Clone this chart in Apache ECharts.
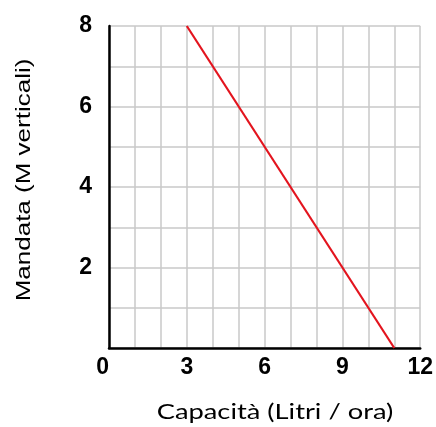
<!DOCTYPE html>
<html>
<head>
<meta charset="utf-8">
<script src="https://cdn.jsdelivr.net/npm/echarts@6/dist/echarts.min.js"></script>
<style>html,body{margin:0;padding:0;background:#fff;}#c{width:436px;height:427px;}</style>
</head>
<body>
<div id="c"></div>
<script>
var capacita = [3, 11];
var mandata = [8, 0];
var xTicks = [0, 3, 6, 9, 12];
var yTicks = [2, 4, 6, 8];
var xTitle = 'Capacità (Litri / ora)';
var yTitle = 'Mandata (M verticali)';

var chart = echarts.init(document.getElementById('c'), null, {renderer: 'canvas'});
var pts = capacita.map(function (x, i) { return [x, mandata[i]]; });
chart.setOption({
  animation: false,
  grid: {left: 109, right: 14, top: 26, bottom: 79, containLabel: false},
  xAxis: {
    type: 'value', min: 0, max: 12, interval: 1,
    axisLine: {show: true, onZero: false, lineStyle: {color: '#000', width: 2.5}},
    axisTick: {show: false},
    splitLine: {show: true, lineStyle: {color: '#c8c8c8', width: 1.5}},
    axisLabel: {
      margin: 8, color: '#000', fontSize: 23, fontWeight: 'bold', fontFamily: 'Liberation Sans',
      alignMinLabel: 'right',
      formatter: function (v) { return xTicks.indexOf(v) >= 0 ? String(v) : ''; }
    }
  },
  yAxis: {
    type: 'value', min: 0, max: 8, interval: 1,
    axisLine: {show: true, onZero: false, lineStyle: {color: '#000', width: 2.5}},
    axisTick: {show: false},
    splitLine: {show: true, lineStyle: {color: '#c8c8c8', width: 1.5}},
    axisLabel: {
      margin: 17, color: '#000', fontSize: 23, fontWeight: 'bold', fontFamily: 'Liberation Sans',
      formatter: function (v) { return yTicks.indexOf(v) >= 0 ? String(v) : ''; }
    }
  },
  graphic: [
    {type: 'text', x: 275, y: 412, scaleX: 1.3, style: {text: xTitle, fill: '#000', fontSize: 21, fontFamily: 'Lato', align: 'center', verticalAlign: 'middle'}},
    {type: 'text', x: 24, y: 180, rotation: Math.PI / 2, scaleX: 1.3, style: {text: yTitle, fill: '#000', fontSize: 20, fontFamily: 'Liberation Sans', align: 'center', verticalAlign: 'middle'}}
  ],
  series: [{
    type: 'line', data: pts, symbol: 'none',
    lineStyle: {color: '#e3141e', width: 2.2}
  }]
});
</script>
</body>
</html>
